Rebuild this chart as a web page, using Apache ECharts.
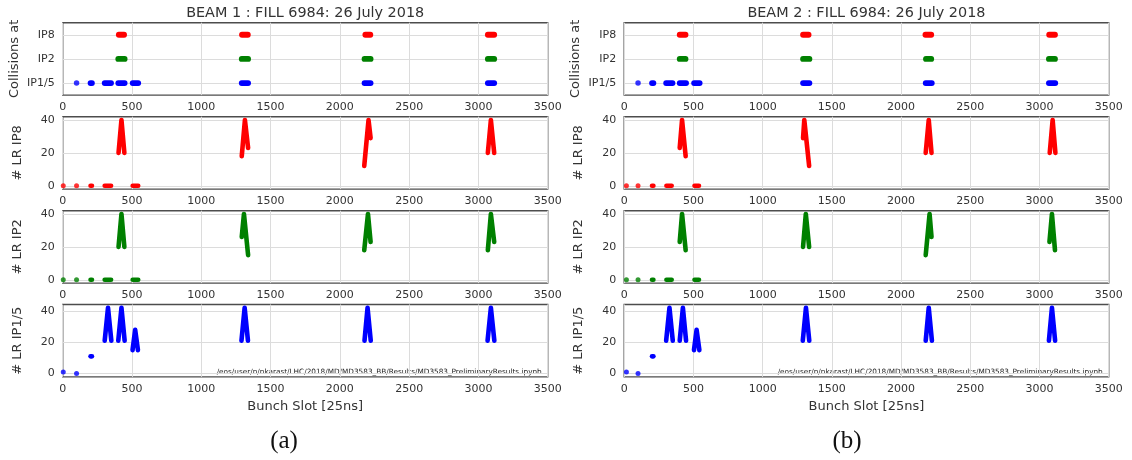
<!DOCTYPE html>
<html>
<head>
<meta charset="utf-8">
<script src="https://cdn.jsdelivr.net/npm/echarts@6/dist/echarts.min.js"></script>
<style>
  html, body { margin: 0; padding: 0; background: #fff; }
  #chart { width: 1132px; height: 460px; }
</style>
</head>
<body>
<div id="chart"></div>
<script>
// Axis ticks and labels
const slotTicks = [0, 500, 1000, 1500, 2000, 2500, 3000, 3500];
const ipNames = ['IP1/5', 'IP2', 'IP8'];
const lrTicks = [0, 20, 40];

// Bunch-slot spans [first, last] of the bunches colliding at each IP
const b1CollIP15 = [[100, 100], [201, 211], [303, 349], [401, 447], [505, 545], [1292, 1338], [2178, 2222], [3068, 3114]];
const b1CollIP2 = [[401, 447], [1292, 1338], [2178, 2222], [3068, 3114]];
const b1CollIP8 = [[405, 443], [1294, 1336], [2184, 2220], [3068, 3114]];
const b2CollIP15 = [[100, 100], [201, 211], [303, 349], [401, 447], [505, 545], [1292, 1338], [2178, 2222], [3068, 3114]];
const b2CollIP2 = [[401, 443], [1292, 1338], [2180, 2218], [3068, 3112]];
const b2CollIP8 = [[401, 443], [1292, 1332], [2176, 2218], [3070, 3112]];

// Long-range encounters per bunch: each train as [slot, count] points
const b1LrIP8 = [
  [[4, 0]], [[100, 0]], [[201, 0], [211, 0]], [[303, 0], [349, 0]],
  [[403, 20], [424, 40], [445, 20]],
  [[505, 0], [545, 0]],
  [[1292, 18], [1315, 40], [1338, 23]],
  [[2176, 12], [2207, 40], [2222, 29]],
  [[3068, 20], [3090, 40], [3114, 20]]
];
const b1LrIP2 = [
  [[4, 0]], [[100, 0]], [[201, 0], [211, 0]], [[303, 0], [349, 0]],
  [[403, 20], [424, 40], [445, 20]],
  [[505, 0], [545, 0]],
  [[1292, 26], [1308, 40], [1338, 15]],
  [[2176, 18], [2203, 40], [2222, 23]],
  [[3068, 18], [3090, 40], [3114, 23]]
];
const b1LrIP15 = [
  [[4, 1]], [[100, 0]], [[201, 11], [211, 11]],
  [[303, 21], [327, 42], [351, 21]],
  [[401, 21], [424, 42], [447, 21]],
  [[504, 15], [523, 28], [543, 15]],
  [[1290, 21], [1313, 42], [1337, 21]],
  [[2178, 21], [2200, 42], [2223, 21]],
  [[3066, 21], [3090, 42], [3115, 21]]
];
const b2LrIP8 = [
  [[16, 0]], [[100, 0]], [[201, 0], [211, 0]], [[305, 0], [343, 0]],
  [[401, 23], [418, 40], [444, 18]],
  [[508, 0], [540, 0]],
  [[1292, 29], [1301, 40], [1336, 12]],
  [[2178, 20], [2200, 40], [2220, 20]],
  [[3074, 20], [3095, 40], [3115, 20]]
];
const b2LrIP2 = [
  [[16, 0]], [[100, 0]], [[201, 0], [211, 0]], [[305, 0], [343, 0]],
  [[401, 23], [418, 40], [444, 18]],
  [[1292, 20], [1312, 40], [1336, 20]],
  [[508, 0], [540, 0]],
  [[2178, 15], [2206, 40], [2220, 26]],
  [[3072, 23], [3090, 40], [3112, 18]]
];
const b2LrIP15 = [
  [[16, 1]], [[100, 0]], [[201, 11], [211, 11]],
  [[303, 21], [327, 42], [351, 21]],
  [[401, 21], [424, 42], [447, 21]],
  [[504, 15], [523, 28], [543, 15]],
  [[1290, 21], [1313, 42], [1337, 21]],
  [[2178, 21], [2200, 42], [2223, 21]],
  [[3068, 21], [3090, 42], [3113, 21]]
];

const RED = '#ff0000', GREEN = '#008000', BLUE = '#0000ff';
const FONT = 'DejaVu Sans';
const TEXT = '#333333';
const GRIDLINE = '#dcdcdc';

const panels = [
  { left: 62.7, width: 485, title: 'BEAM 1 : FILL 6984: 26 July 2018', tag: '(a)', tagX: 284,
    coll: [b1CollIP15, b1CollIP2, b1CollIP8], lr: [b1LrIP8, b1LrIP2, b1LrIP15] },
  { left: 624.2, width: 484.5, title: 'BEAM 2 : FILL 6984: 26 July 2018', tag: '(b)', tagX: 847,
    coll: [b2CollIP15, b2CollIP2, b2CollIP8], lr: [b2LrIP8, b2LrIP2, b2LrIP15] }
];
const rowTops = [22.7, 116.7, 210.7, 304.5];
const rowHeight = 72.4;
const rowNames = ['Collisions at', '# LR IP8', '# LR IP2', '# LR IP1/5'];
const rowColors = [null, RED, GREEN, BLUE];
const lrRanges = [null, [-2, 42], [-2, 42], [-2.1, 44.1]];

const grids = [], xAxes = [], yAxes = [], series = [], titles = [], graphics = [];

panels.forEach((p, pi) => {
  titles.push({
    text: p.title, left: p.left + p.width / 2, top: 6, textAlign: 'center', padding: 0,
    textStyle: { fontFamily: FONT, fontSize: 14.4, fontWeight: 'normal', color: TEXT }
  });
  graphics.push({
    type: 'text', x: p.tagX, y: 441, silent: true,
    style: { text: p.tag, fontFamily: 'Liberation Serif', fontSize: 25, fill: '#111', align: 'center', verticalAlign: 'middle' }
  });
  graphics.push({
    type: 'text', x: p.left + p.width - 6, y: 375.5, silent: true,
    style: { text: '/eos/user/n/nkarast/LHC/2018/MD/MD3583_BB/Results/MD3583_PreliminaryResults.ipynb',
      fontFamily: FONT, fontSize: 7.3, fill: '#222', align: 'right', verticalAlign: 'bottom' }
  });

  rowTops.forEach((top, ri) => {
    const gi = grids.length;
    grids.push({ left: p.left, top: top, width: p.width, height: rowHeight, show: true,
      borderColor: '#4d4d4d', borderWidth: 1.4, backgroundColor: '#fff', z: 0 });
    const isBottom = ri === rowTops.length - 1;
    xAxes.push({
      type: 'value', gridIndex: gi, min: slotTicks[0], max: slotTicks[slotTicks.length - 1],
      interval: slotTicks[1] - slotTicks[0],
      axisLine: { show: false }, axisTick: { show: false },
      axisLabel: { fontFamily: FONT, fontSize: 11, color: TEXT, margin: 7, formatter: v => String(v) },
      splitLine: { show: true, lineStyle: { color: GRIDLINE, width: 1 } },
      name: isBottom ? 'Bunch Slot [25ns]' : '', nameLocation: 'middle', nameGap: 23,
      nameTextStyle: { fontFamily: FONT, fontSize: 13, color: TEXT }
    });
    const yName = { name: rowNames[ri], nameLocation: 'middle', nameRotate: 90,
      nameGap: ri === 0 ? 42 : 39, nameTextStyle: { fontFamily: FONT, fontSize: 13, color: TEXT } };
    if (ri === 0) {
      yAxes.push(Object.assign({
        type: 'value', gridIndex: gi, min: -0.5, max: 2.5,
        axisLine: { show: false },
        axisTick: { show: false, customValues: [0, 1, 2] },
        axisLabel: { customValues: [0, 1, 2], formatter: v => ipNames[v] || '', fontFamily: FONT, fontSize: 11, color: TEXT, margin: 8 },
        splitLine: { show: true, lineStyle: { color: GRIDLINE, width: 1 } }
      }, yName));
      // collision markers: one row per IP
      p.coll.forEach((spans, ipIdx) => {
        const color = [BLUE, GREEN, RED][ipIdx];
        spans.forEach(s => {
          if (s[0] === s[1]) {
            series.push({ type: 'scatter', xAxisIndex: gi, yAxisIndex: gi, silent: true, animation: false,
              symbolSize: 5.5, itemStyle: { color }, data: [[s[0], ipIdx]] });
          } else {
            series.push({ type: 'line', xAxisIndex: gi, yAxisIndex: gi, silent: true, animation: false,
              showSymbol: false, symbol: 'none',
              lineStyle: { color, width: 5.8, cap: 'round', join: 'round' },
              data: [[s[0], ipIdx], [s[1], ipIdx]] });
          }
        });
      });
    } else {
      const rng = lrRanges[ri];
      yAxes.push(Object.assign({
        type: 'value', gridIndex: gi, min: rng[0], max: rng[1],
        axisLine: { show: false },
        axisTick: { show: false, customValues: lrTicks },
        axisLabel: { customValues: lrTicks, fontFamily: FONT, fontSize: 11, color: TEXT, margin: 8 },
        splitLine: { show: true, lineStyle: { color: GRIDLINE, width: 1 } }
      }, yName));
      const color = rowColors[ri];
      p.lr[ri - 1].forEach(track => {
        if (track.length === 1) {
          series.push({ type: 'scatter', xAxisIndex: gi, yAxisIndex: gi, silent: true, animation: false,
            symbolSize: 5, itemStyle: { color }, data: track });
        } else {
          series.push({ type: 'line', xAxisIndex: gi, yAxisIndex: gi, silent: true, animation: false,
            showSymbol: false, symbol: 'none',
            lineStyle: { color, width: 4.6, cap: 'round', join: 'round' },
            data: track });
        }
      });
    }
  });
});

const chart = echarts.init(document.getElementById('chart'), null, { renderer: 'canvas' });
chart.setOption({
  backgroundColor: '#ffffff',
  animation: false,
  title: titles,
  grid: grids,
  xAxis: xAxes,
  yAxis: yAxes,
  series: series,
  graphic: graphics
});
</script>
</body>
</html>
